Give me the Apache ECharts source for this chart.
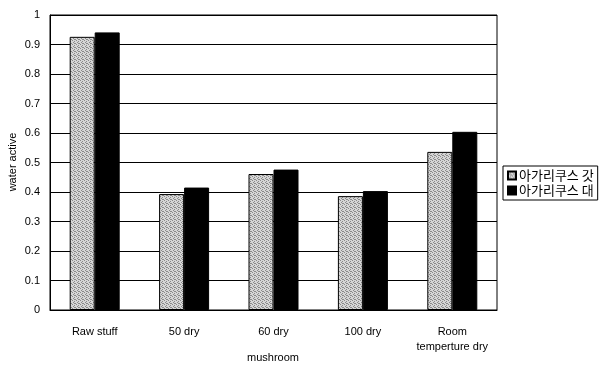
<!DOCTYPE html>
<html><head><meta charset="utf-8">
<script src="https://cdn.jsdelivr.net/npm/echarts@6/dist/echarts.min.js"></script>
<style>html,body{margin:0;padding:0;background:#fff}#c{width:601px;height:365px}</style>
</head><body><div id="c"></div>
<script>
var categories = ['Raw stuff', '50 dry', '60 dry', '100 dry', 'Room\ntemperture dry'];
var seriesNames = ['아가리쿠스 갓', '아가리쿠스 대'];
var capValues = [0.926, 0.393, 0.461, 0.386, 0.536];
var stemValues = [0.941, 0.415, 0.476, 0.403, 0.604];
var yTicks = [0, 0.1, 0.2, 0.3, 0.4, 0.5, 0.6, 0.7, 0.8, 0.9, 1];
var xAxisName = 'mushroom';
var yAxisName = 'water active';

// stipple pattern for the gray bars
var pc = document.createElement('canvas');
pc.width = 4; pc.height = 4;
var px = pc.getContext('2d');
px.fillStyle = '#d6d6d6'; px.fillRect(0,0,4,4);
px.fillStyle = '#8a8a8a';
[[0,0],[2,1],[1,2],[3,3],[2,3]].forEach(function(p){px.fillRect(p[0],p[1],1,1);});

var font = '"Liberation Sans", Arial, "Noto Sans CJK KR", sans-serif';
var chart = echarts.init(document.getElementById('c'));
chart.setOption({
  animation: false,
  textStyle: {fontFamily: font},
  grid: {left: 50, top: 15, right: 104, bottom: 55, show: true, borderColor: '#000', borderWidth: 1,
         containLabel: false, outerBoundsMode: 'none'},
  graphic: [
    {type: 'text', x: 273, y: 358, style: {text: xAxisName, font: '11px ' + font, fill: '#000', align: 'center', verticalAlign: 'middle'}},
    {type: 'text', x: 13, y: 162, rotation: Math.PI / 2, style: {text: yAxisName, font: '11px ' + font, fill: '#000', align: 'center', verticalAlign: 'middle'}}
  ],
  legend: {
    orient: 'vertical', left: 503, top: 166,
    data: seriesNames,
    icon: 'rect', itemWidth: 8, itemHeight: 8, itemGap: 2,
    padding: [3, 4], borderColor: '#000', borderWidth: 1,
    textStyle: {fontSize: 13, color: '#000', fontFamily: '"Noto Sans CJK KR", sans-serif', padding: [0,0,0,-2]}
  },
  xAxis: {
    type: 'category', data: categories,
    axisLine: {lineStyle: {color: '#000'}},
    axisTick: {inside: true, length: 3, lineStyle: {color: '#000'}},
    axisLabel: {interval: 0, fontSize: 11, color: '#000', margin: 14, lineHeight: 15}
  },
  yAxis: {
    type: 'value', min: yTicks[0], max: yTicks[yTicks.length-1], interval: 0.1,
    axisLine: {show: true, lineStyle: {color: '#000'}},
    axisTick: {show: false},
    axisLabel: {fontSize: 11, color: '#000', margin: 10,
      formatter: function(v){ return (v === 0 || v === 1) ? String(v) : v.toFixed(1); }},
    splitLine: {lineStyle: {color: '#000', width: 1}}
  },
  series: [
    {name: seriesNames[0], type: 'bar', data: capValues, barWidth: 25, barGap: '0%',
     itemStyle: {color: {image: pc, repeat: 'repeat'}, borderColor: '#000', borderWidth: 1}},
    {name: seriesNames[1], type: 'bar', data: stemValues, barWidth: 25,
     itemStyle: {color: '#000', borderColor: '#000', borderWidth: 1}}
  ]
});
</script></body></html>
